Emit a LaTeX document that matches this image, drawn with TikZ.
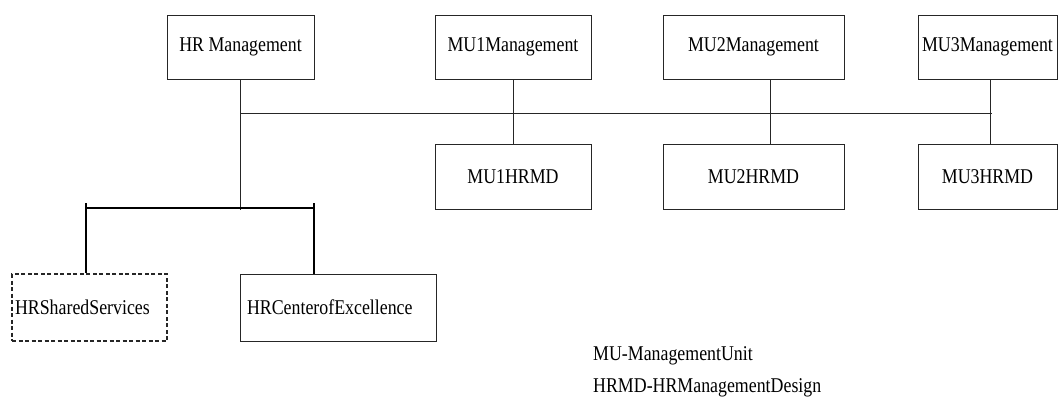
\documentclass[tikz,border=0pt]{standalone}
\usepackage{fontspec}
\usepackage{graphicx}
\setmainfont{Liberation Serif}
\newcommand\cz[1]{\scalebox{0.85}[1]{#1}}
\tikzset{
  box/.style={draw=black!85, line width=0.9pt, inner sep=0pt, font=\fontsize{21}{24}\selectfont},
  dbox/.style={box, line width=1.5pt, dash pattern=on 4pt off 2.5pt},
  ln/.style={draw=black!85, line width=0.9pt},
  bln/.style={draw=black, line width=1.4pt},
  lg/.style={inner sep=0pt, anchor=west, font=\fontsize{21}{24}\selectfont}
}
\begin{document}
\begin{tikzpicture}[x=1pt,y=-1pt]
\useasboundingbox (0,0) rectangle (1058,399);
% top boxes
\node[box, minimum width=147pt, minimum height=64pt] (hr) at (240.5,47) {\cz{HR Management}};
\node[box, minimum width=156pt, minimum height=64pt] (m1) at (513,47) {\cz{MU1Management}};
\node[box, minimum width=181pt, minimum height=64pt] (m2) at (753.5,47) {\cz{MU2Management}};
\node[box, minimum width=139pt, minimum height=64pt] (m3) at (987.5,47) {\cz{MU3Management}};
% HRMD boxes
\node[box, minimum width=156pt, minimum height=65pt] (h1) at (513,176.5) {\cz{MU1HRMD}};
\node[box, minimum width=181pt, minimum height=65pt] (h2) at (753.5,176.5) {\cz{MU2HRMD}};
\node[box, minimum width=139pt, minimum height=65pt] (h3) at (987.5,176.5) {\cz{MU3HRMD}};
% bottom boxes
\node[dbox, minimum width=155pt, minimum height=67pt, text width=149pt, inner xsep=3pt, align=left] (ss) at (89.5,307.5) {\cz{HRSharedServices}};
\node[box, minimum width=196pt, minimum height=67pt, text width=182pt, inner xsep=7pt, align=left] (coe) at (338,307.5) {\cz{HRCenterofExcellence}};
% legend
\node[lg] (l1) at (593,356) {\cz{MU-ManagementUnit}};
\node[lg] (l2) at (593,388) {\cz{HRMD-HRManagementDesign}};
% coordinates
\coordinate (bj) at (240,210);
\coordinate (busL) at (241,113);
\coordinate (busR) at (992,113);
\coordinate (brL) at (86,208);
\coordinate (brR) at (314,208);
\coordinate (tkL) at (86,203);
\coordinate (tkR) at (314,203);
% connectors
\draw[ln] (bj |- hr.south) -- (bj);
\draw[ln] (busL) -- (busR);
\draw[ln] (m1.south) -- (h1.north);
\draw[ln] ([xshift=17pt]m2.south) -- ([xshift=17pt]h2.north);
\draw[ln] ([xshift=2.5pt]m3.south) -- ([xshift=2.5pt]h3.north);
\draw[bln] (brL) -- (brR);
\draw[bln] (tkL) -- (tkL |- ss.north);
\draw[bln] (tkR) -- (tkR |- coe.north);
\end{tikzpicture}
\end{document}
